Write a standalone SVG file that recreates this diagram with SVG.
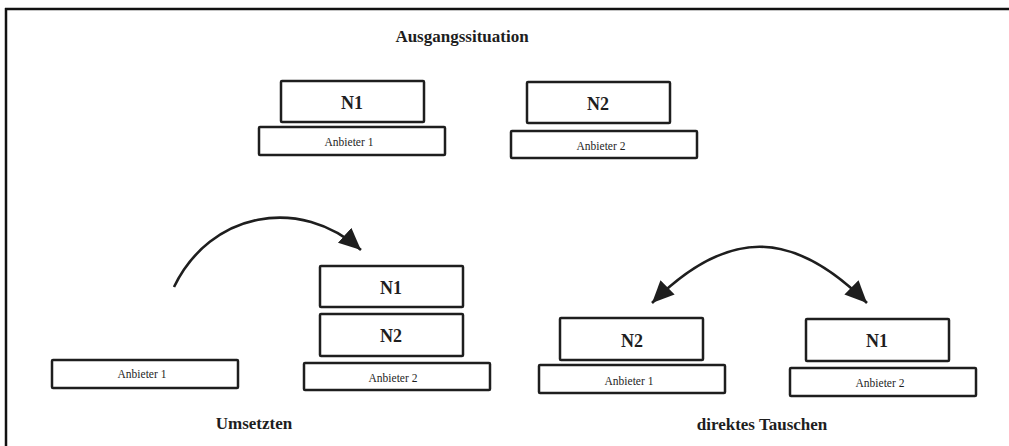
<svg xmlns="http://www.w3.org/2000/svg" width="1009" height="446" viewBox="0 0 1009 446">
<style>
.box{fill:#fff;stroke:#1e1e1e;stroke-width:2.5}
.big{font-family:"Liberation Serif","Times New Roman",serif;font-weight:bold;font-size:18px;fill:#1e1e1e;text-anchor:middle}
.small{font-family:"Liberation Serif","Times New Roman",serif;font-size:11.5px;fill:#1e1e1e;text-anchor:middle}
.title{font-family:"Liberation Serif","Times New Roman",serif;font-weight:bold;font-size:17px;fill:#1e1e1e;text-anchor:middle}
.arc{fill:none;stroke:#1e1e1e;stroke-width:2.6}
</style>
<defs>
<marker id="head" markerUnits="userSpaceOnUse" markerWidth="24" markerHeight="22" refX="22" refY="10" orient="auto-start-reverse">
<path d="M0,0 L22,10 L0,20 Z" fill="#1e1e1e"/>
</marker>
</defs>
<rect width="1009" height="446" fill="#fff"/>
<g id="frame" stroke="#111" stroke-width="2.5" fill="none">
<line x1="5" y1="9" x2="1009" y2="9"/>
<line x1="6" y1="8" x2="6" y2="446"/>
</g>
<text class="title" x="462" y="42">Ausgangssituation</text>
<g id="top-n1"><rect class="box" x="281" y="81" width="143" height="41" rx="1"/><text class="big" x="352" y="109">N1</text></g>
<g id="top-a1"><rect class="box" x="259" y="127" width="186" height="28" rx="1"/><text class="small" x="349" y="146">Anbieter 1</text></g>
<g id="top-n2"><rect class="box" x="527" y="82" width="143" height="41" rx="1"/><text class="big" x="598" y="110">N2</text></g>
<g id="top-a2"><rect class="box" x="511" y="131" width="186" height="27" rx="1"/><text class="small" x="601" y="150">Anbieter 2</text></g>
<g id="left-a1"><rect class="box" x="52" y="360" width="186" height="28" rx="1"/><text class="small" x="142" y="378">Anbieter 1</text></g>
<g id="mid-n1"><rect class="box" x="320" y="266" width="143" height="41" rx="1"/><text class="big" x="391" y="294">N1</text></g>
<g id="mid-n2"><rect class="box" x="320" y="314" width="143" height="42" rx="1"/><text class="big" x="391" y="342">N2</text></g>
<g id="mid-a2"><rect class="box" x="304" y="363" width="186" height="27" rx="1"/><text class="small" x="393" y="382">Anbieter 2</text></g>
<g id="right-n2"><rect class="box" x="560" y="318" width="143" height="42" rx="1"/><text class="big" x="632" y="347">N2</text></g>
<g id="right-a1"><rect class="box" x="539" y="365" width="186" height="28" rx="1"/><text class="small" x="629" y="385">Anbieter 1</text></g>
<g id="right-n1"><rect class="box" x="806" y="319" width="143" height="42" rx="1"/><text class="big" x="877" y="347">N1</text></g>
<g id="right-a2"><rect class="box" x="790" y="368" width="186" height="28" rx="1"/><text class="small" x="880" y="387">Anbieter 2</text></g>
<g id="connectors">
<path class="arc" d="M174,287 C210,212 300,195 361,250" marker-end="url(#head)"/>
<path class="arc" d="M652,303 C727,228 792,228 867,303" marker-start="url(#head)" marker-end="url(#head)"/>
</g>
<text class="title" x="254" y="429">Umsetzten</text>
<text class="title" x="762" y="430">direktes Tauschen</text>
</svg>
